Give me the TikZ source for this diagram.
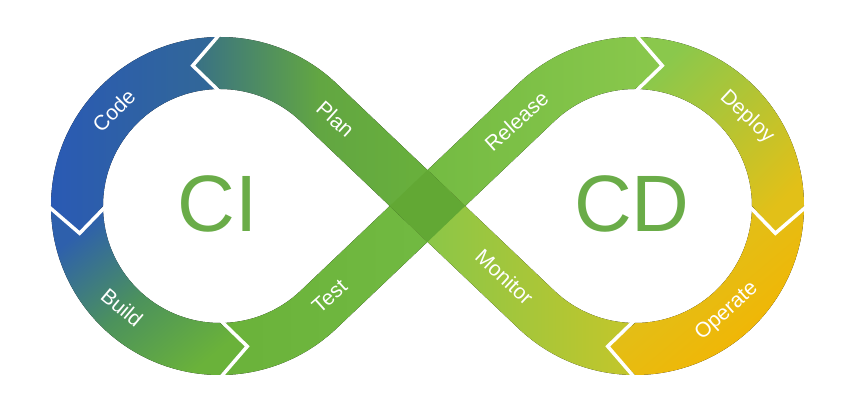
\documentclass[tikz,border=0pt]{standalone}
\usepackage{fontspec}
\setmainfont{Liberation Sans}
\definecolor{codeblue}{RGB}{42, 90, 180}
\definecolor{codeteal}{RGB}{50, 104, 150}
\definecolor{buildblue}{RGB}{46, 96, 172}
\definecolor{buildmid}{RGB}{76, 146, 92}
\definecolor{leafgreen}{RGB}{106, 178, 58}
\definecolor{planteal}{RGB}{56, 112, 134}
\definecolor{planmid}{RGB}{98, 166, 66}
\definecolor{testgreen}{RGB}{114, 186, 66}
\definecolor{relgreen}{RGB}{138, 200, 76}
\definecolor{deployyellow}{RGB}{226, 192, 24}
\definecolor{operateyellow}{RGB}{216, 196, 36}
\definecolor{operateorange}{RGB}{245, 180, 0}
\definecolor{monitorlime}{RGB}{196, 198, 42}
\definecolor{crossgreen}{RGB}{98, 168, 52}
\definecolor{cigreen}{RGB}{106, 172, 72}
\usetikzlibrary{calc}

\tikzset{
  cut/.style={draw=white, line width=3.5pt, line join=miter},
  lbl/.style={text=white, font=\fontsize{21}{24}\selectfont, inner sep=0pt},
  bigtxt/.style={text=cigreen, font=\fontsize{80}{90}\selectfont, inner sep=0pt},
}

\begin{document}
\begin{tikzpicture}[x=1pt, y=1pt]
  \useasboundingbox (-427.5,-205) rectangle (413.5,206);
  \coordinate (C1) at (-207.5,0);
  \coordinate (C2) at (207.5,0);

  % left loop: Code and Build
  \begin{scope}[shift={(C1)}]
    \fill[left color=codeblue, right color=codeteal]
      (90:169) arc[start angle=90, end angle=180, radius=169] -- (191:143)
      -- (180:117) arc[start angle=180, end angle=90, radius=117] -- (101:143) -- cycle;
    \fill[top color=buildblue, bottom color=leafgreen, middle color=buildmid, shading angle=40]
      (180:169) arc[start angle=180, end angle=270, radius=169] -- (281:143)
      -- (270:117) arc[start angle=270, end angle=180, radius=117] -- (191:143) -- cycle;
  \end{scope}

  % right loop: Deploy and Operate
  \begin{scope}[shift={(C2)}]
    \fill[top color=relgreen, bottom color=deployyellow, shading angle=45]
      (90:169) arc[start angle=90, end angle=0, radius=169] -- (-11:143)
      -- (0:117) arc[start angle=0, end angle=90, radius=117] -- (79:143) -- cycle;
    \fill[top color=operateyellow, bottom color=operateorange, shading angle=40]
      (0:169) arc[start angle=0, end angle=-90, radius=169] -- (-101:143)
      -- (-90:117) arc[start angle=-90, end angle=0, radius=117] -- (-11:143) -- cycle;
  \end{scope}

  % diagonals
  \fill[left color=leafgreen, right color=testgreen]
    ($(C1)+(270:169)$) arc[start angle=270, end angle=313.75, radius=169]
    -- (17.98,-18.78) -- (-17.98,18.78)
    -- ($(C1)+(313.75:117)$) arc[start angle=313.75, end angle=270, radius=117]
    -- ($(C1)+(281:143)$) -- cycle;
  \fill[left color=testgreen, right color=relgreen]
    (-17.98,18.78) -- ($(C2)+(133.75:169)$) arc[start angle=133.75, end angle=90, radius=169]
    -- ($(C2)+(79:143)$) -- ($(C2)+(90:117)$) arc[start angle=90, end angle=133.75, radius=117]
    -- (17.98,-18.78) -- cycle;
  \fill[left color=planteal, right color=leafgreen, middle color=planmid]
    ($(C1)+(101:143)$) -- ($(C1)+(90:169)$) arc[start angle=90, end angle=46.25, radius=169]
    -- (17.98,18.78) -- (-17.98,-18.78)
    -- ($(C1)+(46.25:117)$) arc[start angle=46.25, end angle=90, radius=117] -- cycle;
  \fill[left color=relgreen!90!leafgreen, right color=monitorlime]
    ($(C2)+(270:169)$) arc[start angle=270, end angle=226.25, radius=169]
    -- (-17.98,-18.78) -- (17.98,18.78)
    -- ($(C2)+(226.25:117)$) arc[start angle=226.25, end angle=270, radius=117]
    -- ($(C2)+(259:143)$) -- cycle;
  \fill[crossgreen] (0,36) -- (37.6,0) -- (0,-36) -- (-37.6,0) -- cycle;

  % chevron cuts
  \draw[cut] ($(C1)+(90:172)$) -- ($(C1)+(101:143)$) -- ($(C1)+(90:114)$);
  \draw[cut] ($(C1)+(180:172)$) -- ($(C1)+(191:143)$) -- ($(C1)+(180:114)$);
  \draw[cut] ($(C1)+(270:172)$) -- ($(C1)+(281:143)$) -- ($(C1)+(270:114)$);
  \draw[cut] ($(C2)+(90:172)$) -- ($(C2)+(79:143)$) -- ($(C2)+(90:114)$);
  \draw[cut] ($(C2)+(0:172)$) -- ($(C2)+(-11:143)$) -- ($(C2)+(0:114)$);
  \draw[cut] ($(C2)+(270:172)$) -- ($(C2)+(259:143)$) -- ($(C2)+(270:114)$);

  % labels
  \node[lbl, rotate=45] (code) at ($(C1)+(138:143)$) {Code};
  \node[lbl, rotate=-40] (build) at ($(C1)+(226:141)$) {Build};
  \node[lbl, rotate=-42] (plan) at (-92,87) {Plan};
  \node[lbl, rotate=42] (test) at (-98,-90) {Test};
  \node[lbl, rotate=42] (release) at (89,85) {Release};
  \node[lbl, rotate=-43] (monitor) at (77,-71) {Monitor};
  \node[lbl, rotate=-43] (deploy) at ($(C2)+(38.5:143)$) {Deploy};
  \node[lbl, rotate=42] (operate) at ($(C2)+(-49:140)$) {Operate};
  \node[bigtxt] (ci) at (-209.5,2) {CI};
  \node[bigtxt] (cd) at (204.5,2) {CD};
\end{tikzpicture}
\end{document}
